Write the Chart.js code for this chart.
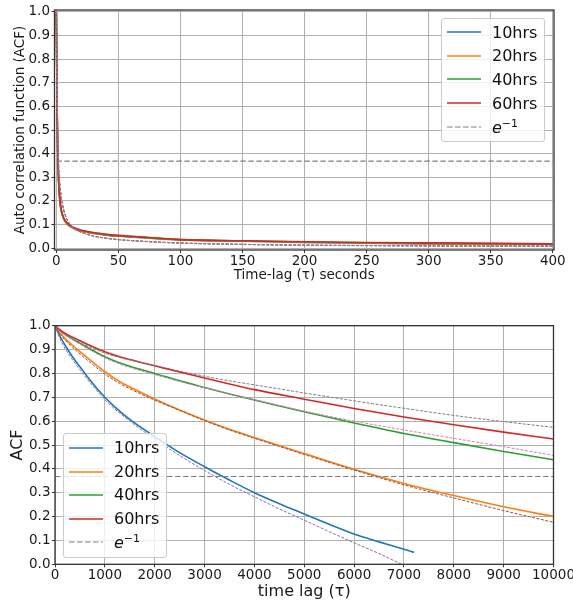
<!DOCTYPE html>
<html>
<head>
<meta charset="utf-8">
<title>ACF</title>
<script src="https://cdn.jsdelivr.net/npm/chart.js@4.4.1/dist/chart.umd.min.js"></script>
<style>
  html, body { margin: 0; padding: 0; background: #fff; }
  body { width: 573px; height: 605px; position: relative; overflow: hidden; font-family: "DejaVu Sans", sans-serif; }
  .panel { position: absolute; left: 0; width: 573px; }
  #topPanel { top: 0; height: 290px; }
  #bottomPanel { top: 300px; height: 305px; }
  .legend { position: absolute; box-sizing: border-box; border: 1px solid #cccccc; border-radius: 3px; background: rgba(255, 255, 255, 0.8); z-index: 2; }
  .row { position: absolute; left: 0; height: 24px; display: flex; align-items: center; font-size: 16px; color: #111; white-space: nowrap; }
  .row svg { margin-left: 5px; flex: none; }
  .row span { margin-left: 11px; }
  .row sup { font-size: 11px; vertical-align: 6px; line-height: 0; }
</style>
</head>
<body>
<div class="panel" id="topPanel"><canvas id="topChart"></canvas></div>
<div class="panel" id="bottomPanel"><canvas id="bottomChart"></canvas></div>
<div class="legend" id="topLegend" style="left:441px;top:18px;width:104px;height:124px;"></div>
<div class="legend" id="bottomLegend" style="left:63px;top:433px;width:104px;height:125px;"></div>
<script>
// series names and colours
const seriesNames = ["10hrs", "20hrs", "40hrs", "60hrs"];
const seriesColors = ["#1f77b4", "#ff7f0e", "#2ca02c", "#d62728"];
const fitColors = ["#9467bd", "#8c564b", "#e377c2", "#7f7f7f"];
const eInv = Math.exp(-1);

// top panel: lag in seconds
const topLag = [0, 0.5, 1, 2, 3, 4, 6, 8, 10, 15, 20, 30, 40, 50, 75, 100, 150, 200, 250, 300, 350, 400];
const top10 = [1.0, 0.64, 0.43, 0.26, 0.19, 0.155, 0.122, 0.106, 0.095, 0.08, 0.072, 0.062, 0.055, 0.05, 0.042, 0.035, 0.029, 0.024, 0.021, 0.018, 0.016, 0.015];
const top20 = [1.0, 0.645, 0.435, 0.262, 0.192, 0.157, 0.124, 0.107, 0.096, 0.081, 0.073, 0.063, 0.056, 0.051, 0.043, 0.035, 0.03, 0.025, 0.022, 0.019, 0.017, 0.016];
const top40 = [1.0, 0.65, 0.44, 0.265, 0.195, 0.16, 0.126, 0.109, 0.098, 0.083, 0.075, 0.064, 0.057, 0.052, 0.044, 0.036, 0.031, 0.026, 0.023, 0.021, 0.019, 0.017];
const top60 = [1.0, 0.655, 0.445, 0.268, 0.198, 0.162, 0.128, 0.111, 0.1, 0.085, 0.076, 0.066, 0.059, 0.054, 0.045, 0.036, 0.031, 0.027, 0.024, 0.022, 0.02, 0.018];
const topFit10 = [1.0, 0.72, 0.52, 0.33, 0.26, 0.215, 0.16, 0.128, 0.108, 0.081, 0.067, 0.051, 0.042, 0.036, 0.027, 0.021, 0.015, 0.012, 0.01, 0.009, 0.008, 0.007];
const topFit20 = [1.0, 0.72, 0.52, 0.33, 0.26, 0.215, 0.16, 0.128, 0.108, 0.081, 0.067, 0.051, 0.042, 0.036, 0.027, 0.021, 0.016, 0.012, 0.011, 0.009, 0.008, 0.008];
const topFit40 = [1.0, 0.72, 0.52, 0.33, 0.26, 0.215, 0.16, 0.128, 0.108, 0.081, 0.067, 0.051, 0.042, 0.036, 0.027, 0.022, 0.016, 0.013, 0.011, 0.01, 0.009, 0.008];
const topFit60 = [1.0, 0.72, 0.52, 0.33, 0.26, 0.215, 0.16, 0.128, 0.108, 0.081, 0.067, 0.051, 0.042, 0.036, 0.028, 0.022, 0.016, 0.013, 0.011, 0.01, 0.009, 0.009];
const topXTicks = [0, 50, 100, 150, 200, 250, 300, 350, 400];

// bottom panel: longer lags
const lag10 = [0, 100, 200, 350, 500, 750, 1000, 1250, 1500, 2000, 2500, 3000, 3500, 4000, 4500, 5000, 5500, 6000, 6500, 7000, 7200];
const acf10 = [1.0, 0.955, 0.919, 0.87, 0.828, 0.76, 0.70, 0.65, 0.607, 0.535, 0.468, 0.409, 0.353, 0.30, 0.254, 0.211, 0.168, 0.127, 0.094, 0.063, 0.05];
const fitLag10 = [0, 100, 200, 350, 500, 750, 1000, 1250, 1500, 2000, 2500, 3000, 3500, 4000, 4500, 5000, 5500, 6000, 6500, 6950];
const fit10 = [1.0, 0.945, 0.905, 0.858, 0.815, 0.75, 0.69, 0.642, 0.6, 0.525, 0.456, 0.393, 0.335, 0.283, 0.232, 0.185, 0.137, 0.09, 0.045, 0.0];
const lagLong = [0, 100, 200, 350, 500, 750, 1000, 1250, 1500, 2000, 2500, 3000, 3500, 4000, 5000, 6000, 7000, 8000, 9000, 10000];
const acf20 = [1.0, 0.97, 0.947, 0.918, 0.891, 0.848, 0.807, 0.772, 0.743, 0.693, 0.647, 0.605, 0.566, 0.531, 0.464, 0.398, 0.339, 0.288, 0.241, 0.2];
const fit20 = [1.0, 0.965, 0.94, 0.91, 0.882, 0.838, 0.797, 0.764, 0.736, 0.688, 0.645, 0.602, 0.563, 0.528, 0.46, 0.395, 0.333, 0.278, 0.225, 0.176];
const acf40 = [1.0, 0.981, 0.965, 0.945, 0.927, 0.897, 0.87, 0.848, 0.83, 0.80, 0.769, 0.741, 0.714, 0.689, 0.639, 0.592, 0.548, 0.51, 0.473, 0.438];
const fit40 = [1.0, 0.976, 0.96, 0.94, 0.922, 0.892, 0.865, 0.843, 0.825, 0.795, 0.766, 0.74, 0.714, 0.69, 0.642, 0.60, 0.563, 0.528, 0.493, 0.456];
const acf60 = [1.0, 0.982, 0.969, 0.952, 0.937, 0.913, 0.891, 0.873, 0.858, 0.832, 0.806, 0.781, 0.756, 0.732, 0.692, 0.653, 0.617, 0.585, 0.554, 0.525];
const fit60 = [1.0, 0.978, 0.963, 0.946, 0.93, 0.906, 0.885, 0.869, 0.856, 0.833, 0.81, 0.788, 0.769, 0.752, 0.718, 0.685, 0.654, 0.624, 0.598, 0.574];
const bottomXTicks = [0, 1000, 2000, 3000, 4000, 5000, 6000, 7000, 8000, 9000, 10000];

const yTicks = [0, 0.1, 0.2, 0.3, 0.4, 0.5, 0.6, 0.7, 0.8, 0.9, 1.0];

function pts(xs, ys) {
  return xs.map((x, i) => ({ x: x, y: ys[i] }));
}

function solid(xs, ys, color) {
  return { data: pts(xs, ys), borderColor: color, borderWidth: 1.6, pointRadius: 0, cubicInterpolationMode: "monotone", fill: false };
}

function fitLine(xs, ys, color) {
  return { data: pts(xs, ys), borderColor: color, borderWidth: 1, borderDash: [3, 1.5], pointRadius: 0, cubicInterpolationMode: "monotone", fill: false };
}

function eLine(x0, x1) {
  return { data: [{ x: x0, y: eInv }, { x: x1, y: eInv }], borderColor: "#808080", borderWidth: 1.2, borderDash: [5.5, 2.5], pointRadius: 0, fill: false };
}

// later datasets on top, like matplotlib
function stack(list) {
  list.forEach((d, i) => { d.order = list.length - i; });
  return list;
}

// box around the plot area
const frame = {
  id: "frame",
  afterDraw(chart) {
    const a = chart.chartArea;
    const ctx = chart.ctx;
    ctx.save();
    ctx.strokeStyle = "#333";
    ctx.lineWidth = 1.3;
    ctx.strokeRect(a.left, a.top, a.right - a.left, a.bottom - a.top);
    ctx.restore();
  }
};

function makeOptions(c) {
  const tickFont = { family: "DejaVu Sans", size: 13.5 };
  return {
    responsive: true,
    maintainAspectRatio: false,
    animation: false,
    devicePixelRatio: 1,
    layout: { padding: c.padding },
    plugins: { legend: { display: false }, tooltip: { enabled: false } },
    scales: {
      x: {
        type: "linear",
        min: c.xMin,
        max: c.xMax,
        afterBuildTicks: (s) => { s.ticks = c.xTicks.map((v) => ({ value: v })); },
        afterFit: (s) => { s.height = c.xHeight; s.paddingLeft = 0; s.paddingRight = 0; },
        grid: { color: "#b0b0b0", lineWidth: 1, drawTicks: true, tickLength: 3, tickColor: "#333", tickWidth: 1 },
        border: { display: false },
        ticks: { autoSkip: false, maxRotation: 0, padding: 0, color: "#1a1a1a", font: tickFont, callback: (v) => String(v) },
        title: { display: true, text: c.xTitle, color: "#1a1a1a", font: { family: "DejaVu Sans", size: c.titleSize }, padding: { top: 0, bottom: c.xTitlePad } }
      },
      y: {
        type: "linear",
        min: c.yMin,
        max: c.yMax,
        afterBuildTicks: (s) => { s.ticks = yTicks.map((v) => ({ value: v })); },
        afterFit: (s) => { s.width = c.yWidth; s.paddingTop = 0; s.paddingBottom = 0; },
        grid: { color: "#b0b0b0", lineWidth: 1, drawTicks: true, tickLength: 3, tickColor: "#333", tickWidth: 1 },
        border: { display: false },
        ticks: { autoSkip: false, padding: 1.5, color: "#1a1a1a", font: tickFont, callback: (v) => v.toFixed(1) },
        title: { display: true, text: c.yTitle, color: "#1a1a1a", font: { family: "DejaVu Sans", size: c.titleSize }, padding: { top: c.yTitlePad, bottom: 0 } }
      }
    }
  };
}

// top chart
new Chart(document.getElementById("topChart"), {
  type: "line",
  data: {
    datasets: stack([
      solid(topLag, top10, seriesColors[0]),
      solid(topLag, top20, seriesColors[1]),
      solid(topLag, top40, seriesColors[2]),
      solid(topLag, top60, seriesColors[3]),
      fitLine(topLag, topFit10, fitColors[0]),
      fitLine(topLag, topFit20, fitColors[1]),
      fitLine(topLag, topFit40, fitColors[2]),
      fitLine(topLag, topFit60, fitColors[3]),
      eLine(0, 400)
    ])
  },
  options: makeOptions({
    padding: { top: 10, right: 19, left: 0, bottom: 0 },
    xMin: -1.5, xMax: 401, yMin: -0.008, yMax: 1.008,
    xTicks: topXTicks, xHeight: 40, yWidth: 54.5,
    xTitle: "Time-lag (\u03c4) seconds", yTitle: "Auto correlation function (ACF)",
    titleSize: 13.5, xTitlePad: 6.2, yTitlePad: 12.6
  }),
  plugins: [frame]
});

// bottom chart
new Chart(document.getElementById("bottomChart"), {
  type: "line",
  data: {
    datasets: stack([
      solid(lag10, acf10, seriesColors[0]),
      fitLine(fitLag10, fit10, fitColors[0]),
      solid(lagLong, acf20, seriesColors[1]),
      fitLine(lagLong, fit20, fitColors[1]),
      solid(lagLong, acf40, seriesColors[2]),
      fitLine(lagLong, fit40, fitColors[2]),
      solid(lagLong, acf60, seriesColors[3]),
      fitLine(lagLong, fit60, fitColors[3]),
      eLine(0, 10000)
    ])
  },
  options: makeOptions({
    padding: { top: 25.7, right: 19.5, left: 0, bottom: 0 },
    xMin: 0, xMax: 10000, yMin: 0, yMax: 1,
    xTicks: bottomXTicks, xHeight: 40.7, yWidth: 55,
    xTitle: "time lag (\u03c4)", yTitle: "ACF",
    titleSize: 16, xTitlePad: 3.7, yTitlePad: 8.1
  }),
  plugins: [frame]
});

// legends (html, so the text stays text)
function buildLegend(id, rowTops) {
  const box = document.getElementById(id);
  const rows = seriesNames.map((name, i) => ({ name: name, color: seriesColors[i], dash: "" }));
  rows.push({ name: "<i>e</i><sup>\u22121</sup>", color: "#808080", dash: "5.5 2.5" });
  rows.forEach((r, i) => {
    const div = document.createElement("div");
    div.className = "row";
    div.style.top = (rowTops[i] - 12) + "px";
    const dashAttr = r.dash ? ' stroke-dasharray="' + r.dash + '"' : "";
    const w = r.dash ? 1.2 : 1.5;
    div.innerHTML = '<svg width="34" height="4"><line x1="0" y1="2" x2="34" y2="2" stroke="' + r.color + '" stroke-width="' + w + '"' + dashAttr + "/></svg><span>" + r.name + "</span>";
    box.appendChild(div);
  });
}

buildLegend("topLegend", [13.2, 36.6, 60.2, 84.2, 108]);
buildLegend("bottomLegend", [13.8, 37.5, 60.8, 84.8, 108.2]);
</script>
</body>
</html>
